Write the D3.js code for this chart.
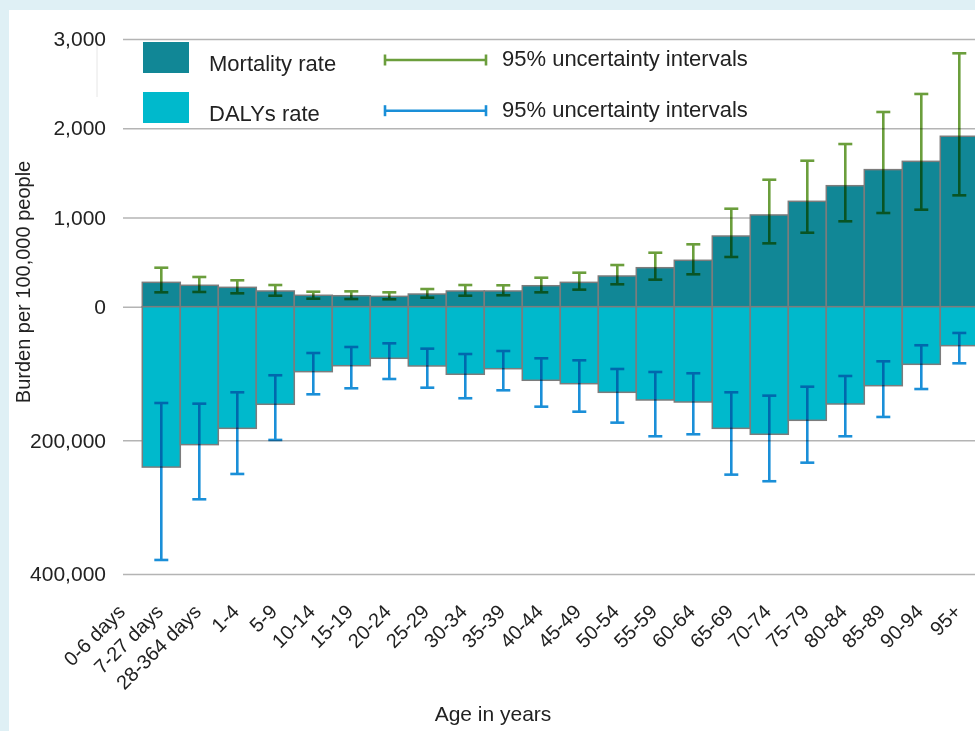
<!DOCTYPE html>
<html>
<head>
<meta charset="utf-8">
<script src="https://cdn.jsdelivr.net/npm/d3@7"></script>
<style>
  html, body { margin: 0; padding: 0; background: #dff0f5; }
  svg { display: block; font-family: "Liberation Sans", Arial, sans-serif; }
  .errbar { mix-blend-mode: multiply; }
</style>
</head>
<body>
<svg id="chart" width="975" height="731"></svg>
<script>
// Age groups shown on the x axis
const ageGroups = ["0-6 days", "7-27 days", "28-364 days", "1-4", "5-9", "10-14", "15-19",
  "20-24", "25-29", "30-34", "35-39", "40-44", "45-49", "50-54", "55-59", "60-64",
  "65-69", "70-74", "75-79", "80-84", "85-89", "90-94", "95+"];

// Bars as drawn in the source (one fewer bar than labels)
const barGroups = ageGroups.slice(1);

// Mortality rate per 100,000 with 95% UI
const mortality = [273, 240, 217, 176, 128, 123, 116, 142, 176, 176, 235,
  273, 344, 437, 520, 792, 1028, 1181, 1356, 1536, 1629, 1910];
const mortalityLow = [161, 165, 150, 123, 90, 86, 83, 101, 123, 128, 161,
  191, 251, 303, 363, 557, 710, 829, 957, 1050, 1087, 1248];
const mortalityHigh = [437, 333, 296, 243, 168, 172, 161, 198, 243, 240, 325,
  381, 467, 605, 699, 1098, 1423, 1636, 1823, 2182, 2384, 2840];

// DALYs rate per 100,000 with 95% UI
const dalys = [240000, 206400, 182000, 146000, 97200, 88300, 77200, 88700, 101100, 92800, 110100,
  115200, 128100, 139600, 142600, 182000, 190900, 170000, 145600, 118200, 86200, 58300];
const dalysLow = [144100, 145100, 128100, 102600, 69300, 60300, 54800, 62800, 70800, 66300, 77200,
  80200, 93200, 97700, 99600, 128100, 133100, 119700, 103700, 81700, 57700, 39300];
const dalysHigh = [379000, 288200, 250300, 199400, 131100, 122100, 108200, 121200, 137000, 125100, 149600,
  157100, 173500, 193900, 190900, 251300, 261200, 233400, 193900, 165000, 123200, 84700];

const mortalityTicks = [0, 1000, 2000, 3000];
const dalysTicks = [200000, 400000];

const colors = {
  mortality: "#118796",
  dalys: "#00b9cc",
  mortalityErr: "#6b9e3c",
  dalysErr: "#1a8fd8",
  grid: "#b4b4b4",
  text: "#222"
};

const svg = d3.select("#chart");

// white panel inside the light blue frame
svg.append("rect")
  .attr("x", 9).attr("y", 10)
  .attr("width", 975 - 9).attr("height", 731 - 10)
  .attr("fill", "#fff");

const gridLeft = 123, gridRight = 975;

const x = d3.scaleBand()
  .domain(ageGroups)
  .range([104.3, 104.3 + 38 * ageGroups.length]);

const yTop = d3.scaleLinear().domain([0, 3000]).range([306.7, 39]);
const yBot = d3.scaleLinear().domain([0, 400000]).range([306.7, 574]);

// faint stray line left of the legend
svg.append("line")
  .attr("x1", 97).attr("x2", 97)
  .attr("y1", 43).attr("y2", 97)
  .attr("stroke", "#e6e6e6").attr("stroke-width", 1);

// y axes with gridlines
function drawAxis(scale, ticks) {
  const g = svg.append("g")
    .attr("transform", `translate(${gridLeft},0)`)
    .call(d3.axisLeft(scale)
      .tickValues(ticks)
      .tickFormat(d3.format(","))
      .tickSize(-(gridRight - gridLeft))
      .tickPadding(17));
  g.select(".domain").remove();
  g.selectAll(".tick line")
    .attr("stroke", colors.grid)
    .attr("stroke-width", 1.5);
  g.selectAll(".tick text")
    .attr("fill", colors.text)
    .attr("font-size", 21)
    .attr("font-family", "Liberation Sans, Arial, sans-serif");
  return g;
}
drawAxis(yTop, mortalityTicks);
drawAxis(yBot, dalysTicks);

// bars
const barStroke = "#7c7c7c";
svg.append("g")
  .selectAll("rect")
  .data(barGroups)
  .join("rect")
  .attr("x", d => x(d))
  .attr("y", (d, i) => yTop(mortality[i]))
  .attr("width", x.bandwidth())
  .attr("height", (d, i) => yTop(0) - yTop(mortality[i]))
  .attr("fill", colors.mortality)
  .attr("stroke", barStroke)
  .attr("stroke-width", 1.5);

svg.append("g")
  .selectAll("rect")
  .data(barGroups)
  .join("rect")
  .attr("x", d => x(d))
  .attr("y", yBot(0))
  .attr("width", x.bandwidth())
  .attr("height", (d, i) => yBot(dalys[i]) - yBot(0))
  .attr("fill", colors.dalys)
  .attr("stroke", barStroke)
  .attr("stroke-width", 1.5);

// error bars
const capHalf = 7;
function drawErrors(low, high, scale, color) {
  const g = svg.append("g")
    .attr("class", "errbar")
    .attr("stroke", color)
    .attr("stroke-width", 2.6);
  barGroups.forEach((d, i) => {
    const cx = x(d) + x.bandwidth() / 2;
    const y1 = scale(low[i]), y2 = scale(high[i]);
    g.append("line").attr("x1", cx).attr("x2", cx).attr("y1", y1).attr("y2", y2);
    g.append("line").attr("x1", cx - capHalf).attr("x2", cx + capHalf).attr("y1", y1).attr("y2", y1);
    g.append("line").attr("x1", cx - capHalf).attr("x2", cx + capHalf).attr("y1", y2).attr("y2", y2);
  });
}
drawErrors(mortalityLow, mortalityHigh, yTop, colors.mortalityErr);
drawErrors(dalysLow, dalysHigh, yBot, colors.dalysErr);

// x axis labels
svg.append("g")
  .selectAll("text")
  .data(ageGroups)
  .join("text")
  .attr("transform", d => `translate(${x(d) + x.bandwidth() / 2 + 3},613) rotate(-45)`)
  .attr("text-anchor", "end")
  .attr("font-size", 20)
  .attr("fill", colors.text)
  .text(d => d);

// axis titles
svg.append("text")
  .attr("x", 493).attr("y", 721)
  .attr("text-anchor", "middle")
  .attr("font-size", 21)
  .attr("fill", colors.text)
  .text("Age in years");

svg.append("text")
  .attr("transform", "translate(30,282) rotate(-90)")
  .attr("text-anchor", "middle")
  .attr("font-size", 20)
  .attr("fill", colors.text)
  .text("Burden per 100,000 people");

// legend
const legend = svg.append("g");
const legendRows = [
  { label: "Mortality rate", fill: colors.mortality, err: colors.mortalityErr, y: 42, textY: 71, errY: 60, errTextY: 66 },
  { label: "DALYs rate", fill: colors.dalys, err: colors.dalysErr, y: 92, textY: 120.5, errY: 110.7, errTextY: 116.5 }
];
legendRows.forEach(r => {
  legend.append("rect")
    .attr("x", 143).attr("y", r.y)
    .attr("width", 46).attr("height", 31)
    .attr("fill", r.fill);
  legend.append("text")
    .attr("x", 209).attr("y", r.textY)
    .attr("font-size", 22)
    .attr("fill", colors.text)
    .text(r.label);
  const lg = legend.append("g").attr("stroke", r.err).attr("stroke-width", 2.6);
  lg.append("line").attr("x1", 385).attr("x2", 486).attr("y1", r.errY).attr("y2", r.errY);
  lg.append("line").attr("x1", 385).attr("x2", 385).attr("y1", r.errY - 5.5).attr("y2", r.errY + 5.5);
  lg.append("line").attr("x1", 486).attr("x2", 486).attr("y1", r.errY - 5.5).attr("y2", r.errY + 5.5);
  legend.append("text")
    .attr("x", 502).attr("y", r.errTextY)
    .attr("font-size", 22)
    .attr("fill", colors.text)
    .text("95% uncertainty intervals");
});
</script>
</body>
</html>
